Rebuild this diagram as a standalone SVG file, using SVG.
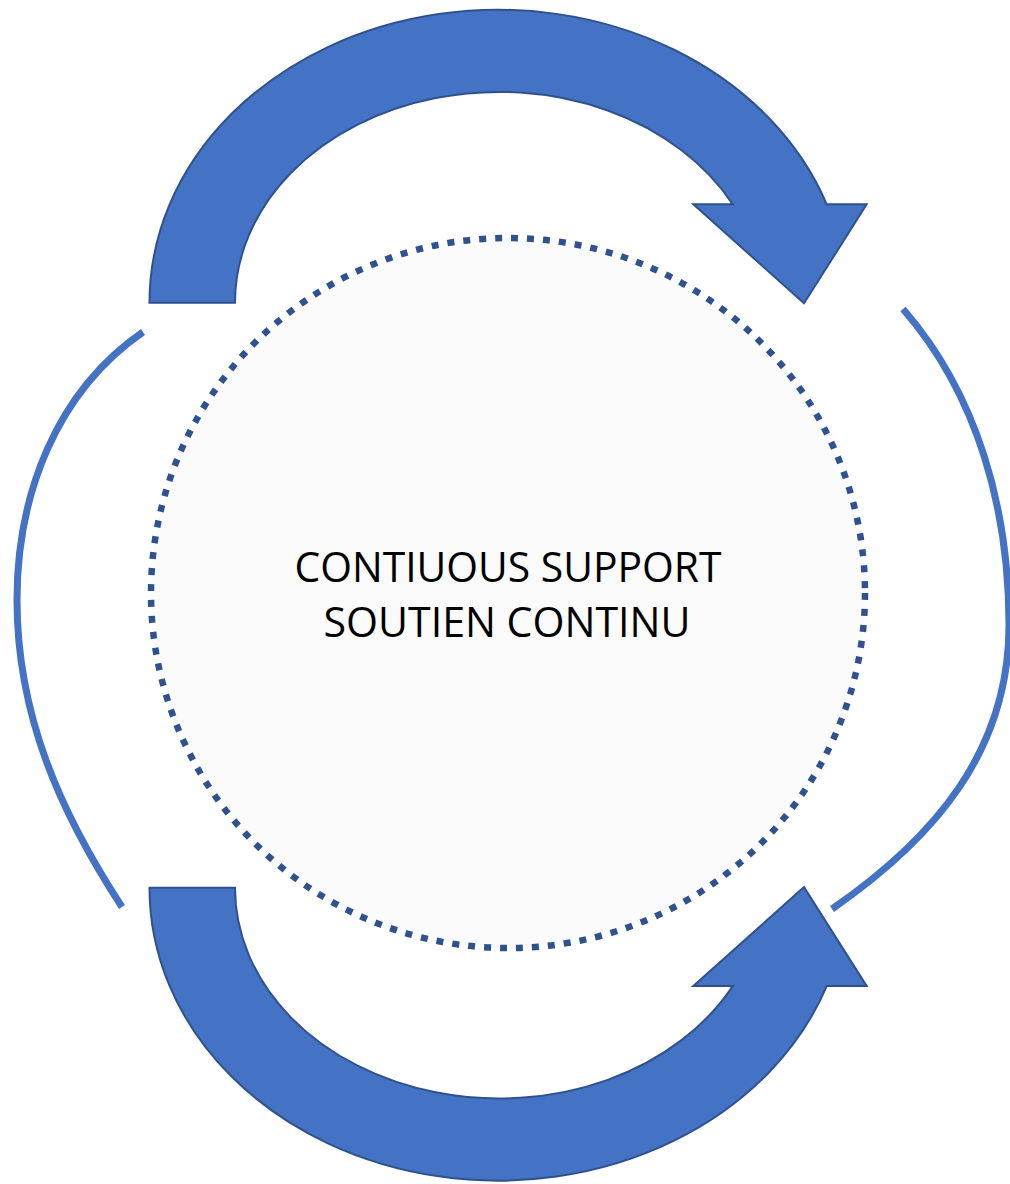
<svg xmlns="http://www.w3.org/2000/svg" width="1010" height="1184" viewBox="0 0 1010 1184">
  <style>
    .arrow { fill: #4472c4; stroke: #2f528f; stroke-width: 2; stroke-linejoin: miter; }
    .arc { fill: none; stroke: #4472c4; stroke-width: 7; stroke-linecap: butt; }
    .ring { fill: #fbfbfb; stroke: #2f528f; stroke-width: 6.5; stroke-dasharray: 7 9; }
    .label { font-family: "Open Sans", "Noto Sans", "Liberation Sans", sans-serif; font-size: 42px; fill: #000000; text-anchor: middle; }
  </style>
  <rect x="0" y="0" width="1010" height="1184" fill="#ffffff"/>
  <g id="center-node">
    <ellipse class="ring" cx="508" cy="593" rx="357" ry="355"/>
    <text class="label" x="508" y="582" textLength="427" lengthAdjust="spacingAndGlyphs">CONTIUOUS SUPPORT</text>
    <text class="label" x="507" y="637" textLength="367" lengthAdjust="spacingAndGlyphs">SOUTIEN CONTINU</text>
  </g>
  <g id="arrow-top">
    <path class="arrow" d="M149.5,302.7 A348.7,292.7 0 0 1 826.7,204.3 L866.7,204.3 L804,303.3 L693.3,204.3 L732.7,204.3 A264.1,210.7 0 0 0 235,302.7 Z"/>
  </g>
  <g id="arrow-bottom">
    <path class="arrow" d="M149.5,887.7 A348.7,292.7 0 0 0 826.7,986.1 L866.7,986.1 L804,887.1 L693.3,986.1 L732.7,986.1 A264.1,210.7 0 0 1 235,887.7 Z"/>
  </g>
  <g id="connectors">
    <path class="arc" d="M143,332 C56,392 17,495 17,600 C17,715 60,812 122,907"/>
    <path class="arc" d="M903,309 C978.4,395.6 1009,510.2 1009,625 C1009,750 936,837 832,909"/>
  </g>
</svg>
